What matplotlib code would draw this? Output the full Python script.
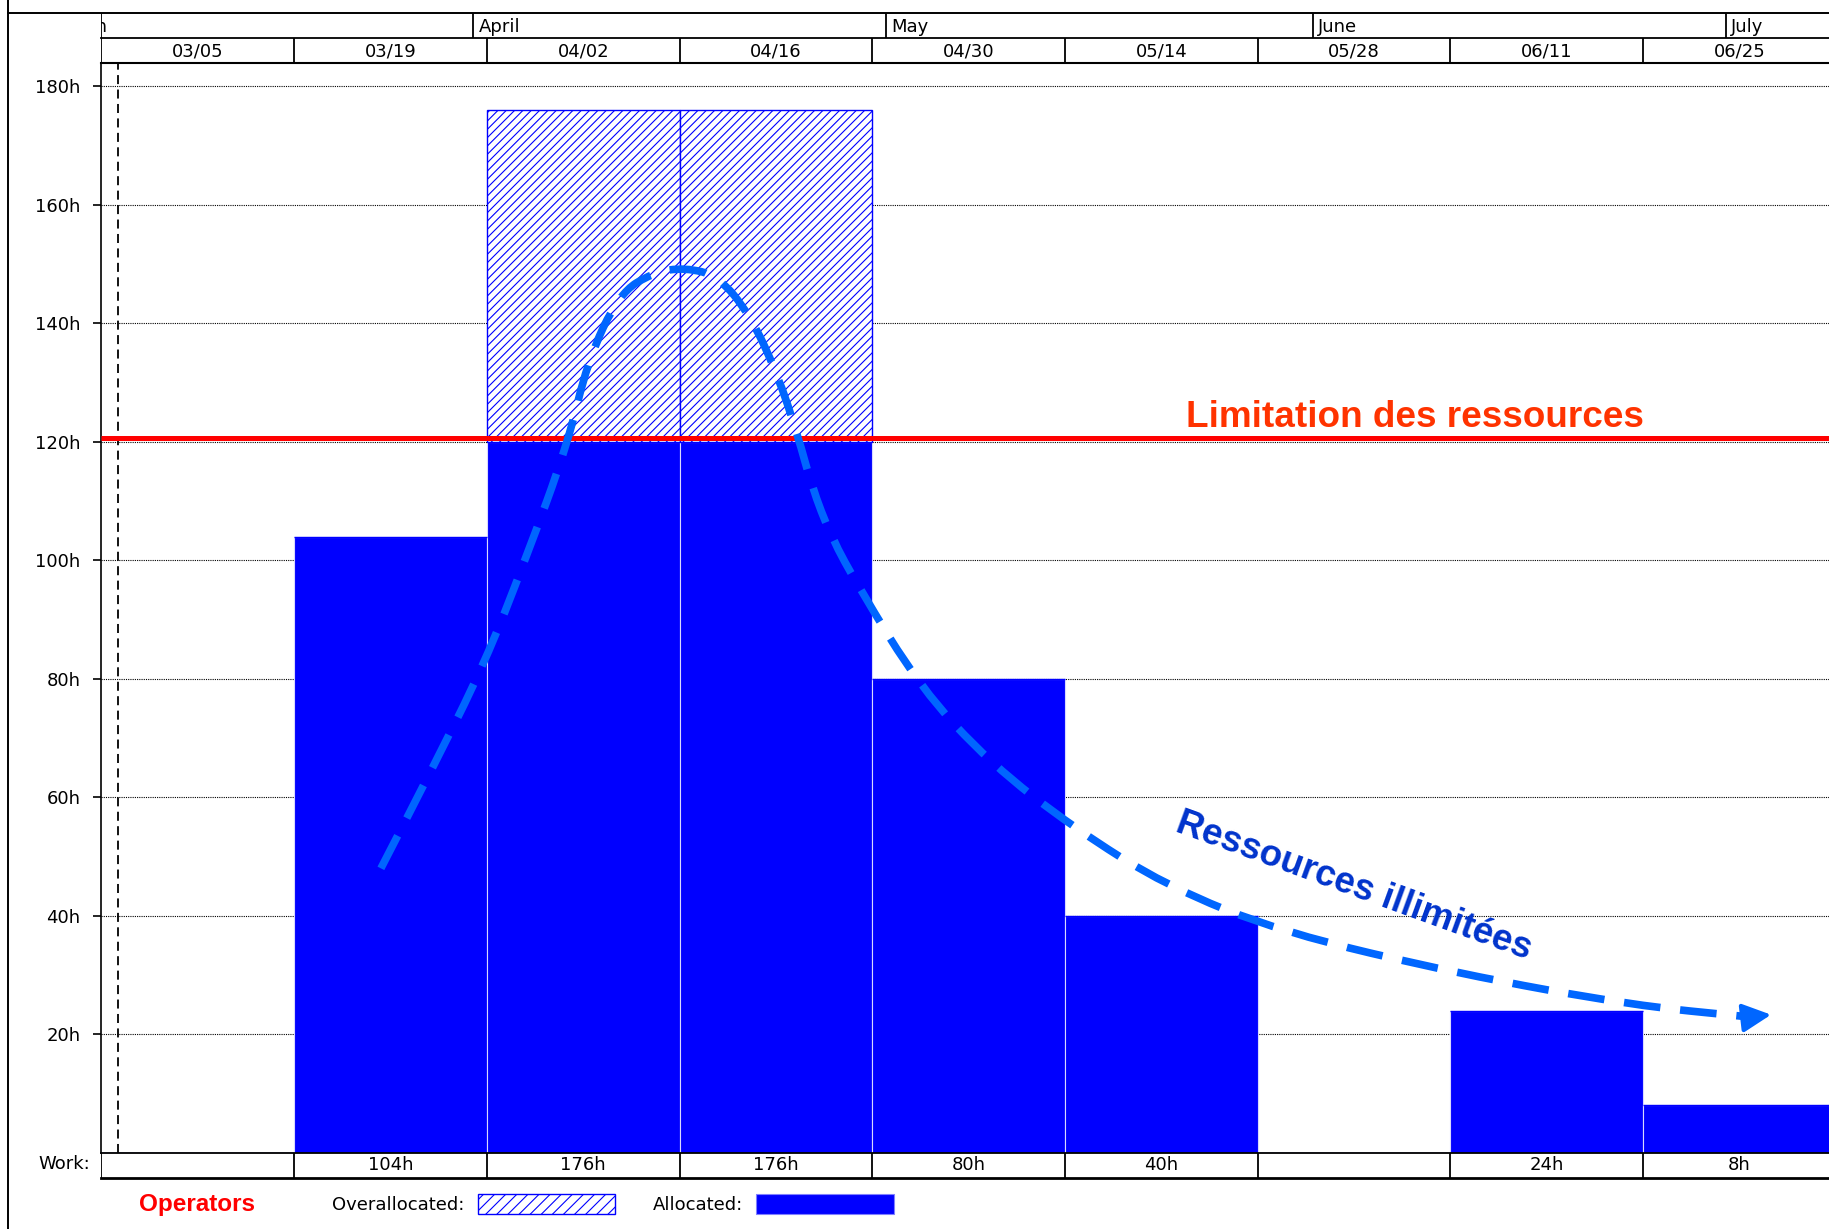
import matplotlib
matplotlib.use("Agg")
import matplotlib.pyplot as plt
import matplotlib.transforms as mtransforms
from matplotlib.patches import Rectangle, PathPatch
from matplotlib.lines import Line2D
from matplotlib.path import Path

# ---- data -------------------------------------------------------------
periods = ["03/05", "03/19", "04/02", "04/16", "04/30", "05/14", "05/28", "06/11", "06/25"]
work_hours = [0, 104, 176, 176, 80, 40, 0, 24, 8]
capacity_hours = 120
period_days = 14

months = ["March", "April", "May", "June", "July"]
month_start_day = [-4, 27, 57, 88, 118]          # days counted from 03/05

y_ticks = [20, 40, 60, 80, 100, 120, 140, 160, 180]
status_day = 1.2                                  # current-date marker

# hand-drawn trend of the unlimited-resources profile (day, hours)
trend_day = [20.3, 24.0, 27.8, 30.8, 33.9, 35.3, 37.6, 40.1, 42.4, 44.8, 47.1,
             49.1, 50.6, 51.6, 53.0, 55.0, 59.5, 64.6, 70.6, 77.4, 85.8, 98.6, 111.2, 119.8]
trend_hours = [48.0, 64.7, 82.4, 100.1, 119.8, 133.5, 145.0, 148.6, 149.4, 148.0, 141.5,
               131.5, 121.0, 112.5, 104.0, 95.5, 78.5, 65.7, 54.9, 45.0, 37.2, 30.2, 24.9, 22.9]
arrow_tip = (121.3, 23.3)

# ---- style ------------------------------------------------------------
plt.rcParams["font.family"] = ["DejaVu Sans"]
plt.rcParams["hatch.linewidth"] = 0.8
BLUE = "#0000FF"
SMALL = 13

W_PX, H_PX = 1568.0, 1054.0
def fx(px):
    return px / W_PX
def fy(py):
    return 1.0 - py / H_PX

fig = plt.figure(figsize=(18.29, 12.29), dpi=100, facecolor="white")

x_max = (W_PX - 87) / 11.8
starts = [i * period_days for i in range(len(periods))]
allocated = [min(h, capacity_hours) for h in work_hours]
overalloc = [max(h - capacity_hours, 0) for h in work_hours]

# ---- main histogram ---------------------------------------------------
ax = fig.add_axes([fx(87), fy(988.6), 1 - fx(87), (988.6 - 54) / H_PX])
ax.set_xlim(0, x_max)
ax.set_ylim(0, (988.6 - 54) / 5.081)
for s in ("top", "right", "bottom"):
    ax.spines[s].set_visible(False)
ax.spines["left"].set_linewidth(1.2)
ax.set_xticks([])
ax.set_yticks(y_ticks)
ax.set_yticklabels([f"{v}h" for v in y_ticks])
ax.tick_params(axis="y", length=6, width=1.2, direction="out", labelsize=SMALL, pad=9)
ax.set_axisbelow(True)
ax.grid(axis="y", linestyle=(0, (1, 1)), color="black", linewidth=0.8)

ax.bar(starts, allocated, width=period_days, align="edge", color=BLUE,
       edgecolor="#D8D8FF", linewidth=0.8, zorder=2)
ax.bar(starts, overalloc, bottom=allocated, width=period_days, align="edge",
       facecolor="white", edgecolor=BLUE, hatch="////", linewidth=1.0, zorder=2)

ax.axvline(status_day, color="black", linewidth=1.3, linestyle=(0, (5, 3)), zorder=1.5)

# resource limit
lift = mtransforms.ScaledTranslation(0, 2.8 / 72, fig.dpi_scale_trans)
ax.plot([0, 1], [capacity_hours, capacity_hours], color="#FF0000", linewidth=3.6,
        transform=ax.get_yaxis_transform() + lift, zorder=4, solid_capstyle="butt")
ax.text(78.8, 122.5, "Limitation des ressources", color="#FF3300",
        fontsize=26.6, fontweight="bold", family="Liberation Sans",
        ha="left", va="baseline", zorder=6)

# unlimited-resources trend, smoothed with quadratic Bezier segments
pts = list(zip(trend_day, trend_hours))
verts = [pts[0], ((pts[0][0] + pts[1][0]) / 2, (pts[0][1] + pts[1][1]) / 2)]
codes = [Path.MOVETO, Path.LINETO]
for i in range(1, len(pts) - 1):
    mid = ((pts[i][0] + pts[i + 1][0]) / 2, (pts[i][1] + pts[i + 1][1]) / 2)
    verts += [pts[i], mid]
    codes += [Path.CURVE3, Path.CURVE3]
verts.append(pts[-1])
codes.append(Path.LINETO)
ax.add_patch(PathPatch(Path(verts, codes), fill=False, edgecolor="#0066FF",
                       linewidth=5.5, linestyle=(0, (4.8, 2.6)), capstyle="butt",
                       zorder=5, clip_on=False))
ax.annotate("", xy=arrow_tip, xytext=(trend_day[-1], trend_hours[-1]),
            arrowprops=dict(arrowstyle="-|>,head_length=0.7,head_width=0.35",
                            color="#0066FF", linewidth=3, mutation_scale=25,
                            shrinkA=0, shrinkB=0), zorder=5)
ax.text(91.0, 45.0, "Ressources illimitées", color="#0033CC", fontsize=26.5,
        fontweight="bold", family="Liberation Sans", rotation=-20,
        rotation_mode="anchor", ha="center", va="center", zorder=6)

# ---- timescale header -------------------------------------------------
hx = fig.add_axes([fx(87), fy(54), 1 - fx(87), (54 - 11) / H_PX])
hx.set_xlim(0, x_max)
hx.set_ylim(0, 2)
hx.axis("off")
hx.plot([0, x_max], [1, 1], color="black", linewidth=1.3, clip_on=False)
hx.plot([0, x_max], [0, 0], color="black", linewidth=1.5, clip_on=False)
hx.vlines([0], 0, 2, color="black", linewidth=1.3)
hx.vlines(starts[1:], 0, 1, color="black", linewidth=1.3)
hx.vlines(month_start_day[1:], 1, 2, color="black", linewidth=1.3)
for d, lab in zip(starts, periods):
    hx.text(d + period_days / 2, 0.45, lab, ha="center", va="center", fontsize=SMALL)
for d, lab in zip(month_start_day, months):
    hx.text(d + 0.4, 1.42, lab, ha="left", va="center", fontsize=SMALL, clip_on=True)

# ---- work row ---------------------------------------------------------
wx = fig.add_axes([fx(87), fy(1010), 1 - fx(87), (1010 - 988.6) / H_PX])
wx.set_xlim(0, x_max)
wx.set_ylim(0, 1)
wx.axis("off")
wx.plot([0, x_max], [1, 1], color="black", linewidth=1.3, clip_on=False)
wx.plot([0, x_max], [0, 0], color="black", linewidth=2.0, clip_on=False)
wx.vlines(starts, 0, 1, color="black", linewidth=1.3)
for d, h in zip(starts, work_hours):
    if h:
        wx.text(d + period_days / 2, 0.5, f"{h}h", ha="center", va="center", fontsize=SMALL)
fig.text(fx(77), fy(998), "Work:", ha="right", va="center", fontsize=SMALL)

# ---- legend -----------------------------------------------------------
fig.text(fx(169), fy(1033), "Operators", color="#FF0000", fontsize=17.5,
         fontweight="bold", family="Liberation Sans", ha="center", va="center")
fig.text(fx(285), fy(1033), "Overallocated:", ha="left", va="center", fontsize=SMALL)
fig.add_artist(Rectangle((fx(410), fy(1041)), fx(527) - fx(410), (1041 - 1024) / H_PX,
                         transform=fig.transFigure, facecolor="white", edgecolor=BLUE,
                         hatch="///", linewidth=1.0))
fig.text(fx(560), fy(1033), "Allocated:", ha="left", va="center", fontsize=SMALL)
fig.add_artist(Rectangle((fx(648), fy(1041)), fx(766) - fx(648), (1041 - 1024) / H_PX,
                         transform=fig.transFigure, facecolor=BLUE, edgecolor="#8080FF",
                         linewidth=0.8))

# ---- outer frame ------------------------------------------------------
fig.add_artist(Line2D([fx(7), fx(7)], [0, 1], color="black", linewidth=1.4,
                      transform=fig.transFigure))
fig.add_artist(Line2D([fx(7), 1], [fy(11), fy(11)], color="black", linewidth=1.4,
                      transform=fig.transFigure))

fig.savefig("out.png", dpi=100, facecolor="white")
